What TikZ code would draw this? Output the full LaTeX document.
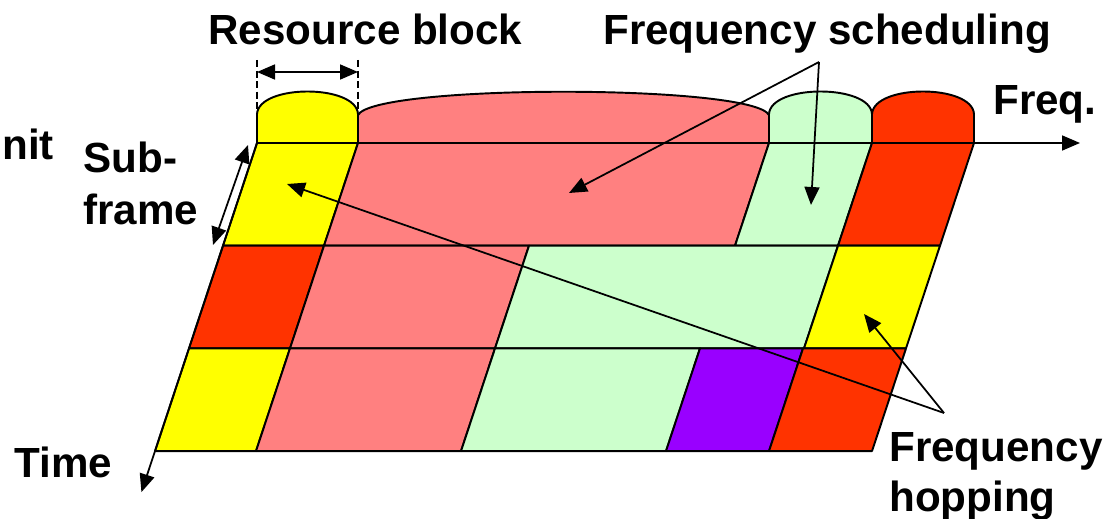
\documentclass[tikz,border=0pt]{standalone}
\usepackage{fontspec}
\setmainfont{Liberation Sans}
\usetikzlibrary{arrows.meta}

\definecolor{rbyellow}{HTML}{FFFF00}
\definecolor{rbpink}{HTML}{FF8080}
\definecolor{rbgreen}{HTML}{CCFFCC}
\definecolor{rbred}{HTML}{FF3300}
\definecolor{rbpurple}{HTML}{9900FF}

\tikzset{
  cell/.style={draw=black, line width=1.1pt, line join=round},
  lbl/.style={font=\fontsize{24}{28.5}\selectfont\bfseries, inner sep=0pt},
  tip/.style={-{Triangle[length=0.36cm,width=0.3cm]}, line width=1pt},
  twotip/.style={{Triangle[length=0.36cm,width=0.3cm]}-{Triangle[length=0.36cm,width=0.3cm]}, line width=1pt},
  guide/.style={dash pattern=on 4pt off 2pt, line width=0.8pt},
}

\newcommand{\rbcell}[4]{\filldraw[cell, fill=#4] (#1,#3) -- (#2,#3) -- (#2,#3+1) -- (#1,#3+1) -- cycle;}
\newcommand{\rbcap}[3]{\filldraw[cell, fill=#3] (#1,143) -- (#1,114) .. controls (#1+2,84) and (#2-2,84) .. (#2,114) -- (#2,143) -- cycle;}

\begin{document}
\begin{tikzpicture}[x=0.02cm, y=-0.02cm]
    \useasboundingbox (0,0) rectangle (1105,519);

    % Define the positions of the nodes
    \node[lbl, anchor=base west] (rblbl) at (208,45) {Resource block};
    \node[lbl, anchor=base west] (schedlbl) at (603,45) {Frequency scheduling};
    \node[lbl, anchor=base west] (freqlbl) at (993,115) {Freq.};
    \node[lbl, anchor=base west] (unitlbl) at (2,160) {nit};
    \node[lbl, anchor=base west, align=left] (sublbl) at (83,225) {Sub-\\[1.5pt]frame};
    \node[lbl, anchor=base west] (timelbl) at (14,478) {Time};
    \node[lbl, anchor=base west, align=left] (hoplbl) at (889,512) {Frequency\\hopping};

    % Caps above the frequency axis
    \rbcap{257}{358}{rbyellow}
    \filldraw[cell, fill=rbpink] (358,143) -- (358,115) .. controls (375,84) and (752,84) .. (769,115) -- (769,143) -- cycle;
    \rbcap{769}{872}{rbgreen}
    \rbcap{872}{974}{rbred}

    % Draw the grid
    \begin{scope}[shift={(0,143)}, x={(0.02cm,0cm)}, y={(-0.68cm,-2.054cm)}]
        \rbcell{257}{358}{0}{rbyellow}
        \rbcell{358}{769}{0}{rbpink}
        \rbcell{769}{872}{0}{rbgreen}
        \rbcell{872}{974}{0}{rbred}

        \rbcell{257}{358}{1}{rbred}
        \rbcell{358}{563}{1}{rbpink}
        \rbcell{563}{872}{1}{rbgreen}
        \rbcell{872}{974}{1}{rbyellow}

        \rbcell{257}{358}{2}{rbyellow}
        \rbcell{358}{563}{2}{rbpink}
        \rbcell{563}{768}{2}{rbgreen}
        \rbcell{768}{871}{2}{rbpurple}
        \rbcell{871}{974}{2}{rbred}

        \coordinate (origin) at (257,0);
        \coordinate (freqend) at (1080,0);
        \coordinate (timeend) at (257,3.4);
    \end{scope}

    % Axes
    \draw[tip] (origin) -- (freqend);
    \draw[tip] (origin) -- (timeend);

    % Resource block width
    \coordinate (rbl) at (257,72);
    \coordinate (rbr) at (358,72);
    \draw[guide] (257,60) -- (257,114);
    \draw[guide] (358,60) -- (358,114);
    \draw[twotip] (rbl) -- (rbr);

    % Sub-frame length
    \coordinate (subtop) at (248,145);
    \coordinate (subbot) at (213,245);
    \draw[twotip] (subtop) -- (subbot);

    % Frequency scheduling
    \coordinate (schedfork) at (819,62);
    \coordinate (schedpink) at (569,193);
    \coordinate (schedgreen) at (811,205);
    \draw[tip] (schedfork) -- (schedpink);
    \draw[tip] (schedfork) -- (schedgreen);

    % Frequency hopping
    \coordinate (hopfork) at (944,413);
    \coordinate (hopleft) at (287,184);
    \coordinate (hopright) at (864,314);
    \draw[tip] (hopfork) -- (hopleft);
    \draw[tip] (hopfork) -- (hopright);
\end{tikzpicture}
\end{document}
